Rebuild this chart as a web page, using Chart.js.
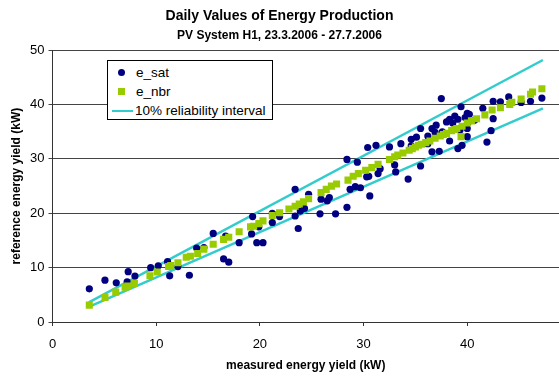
<!DOCTYPE html>
<html>
<head>
<meta charset="utf-8">
<script src="https://cdn.jsdelivr.net/npm/chart.js@4"></script>
<style>
  html, body { margin: 0; padding: 0; background: #fff; }
  #wrap { position: relative; width: 559px; height: 376px; }
  #legend {
    position: absolute; left: 107px; top: 60px; width: 164px; height: 58px;
    border: 1px solid #000; background: #fff;
    font: 13.5px "Liberation Sans", Arial, sans-serif; color: #000;
  }
  #legend .row { position: absolute; left: 0; height: 16px; line-height: 16px; }
  #legend .txt { position: absolute; left: 28px; white-space: nowrap; }
  #legend .dot { position: absolute; left: 10px; top: 4px; width: 7px; height: 7px; border-radius: 50%; background: #000080; }
  #legend .sq { position: absolute; left: 10px; top: 4px; width: 7px; height: 7px; background: #99cc00; }
  #legend .ln { position: absolute; left: 4px; top: 7px; width: 21px; height: 2px; background: #33cccc; }
</style>
</head>
<body>
<div id="wrap">
  <canvas id="chart" width="559" height="376"></canvas>
  <div id="legend">
    <div class="row" style="top:4px"><span class="dot"></span><span class="txt">e_sat</span></div>
    <div class="row" style="top:23px"><span class="sq"></span><span class="txt">e_nbr</span></div>
    <div class="row" style="top:42px"><span class="ln"></span><span class="txt" style="left:27px">10% reliability interval</span></div>
  </div>
</div>
<script>
// measured (x) vs reference (y) daily energy yield, kW
const satX = [3.55, 5.06, 6.15, 7.2, 7.3, 7.95, 9.47, 10.2, 11.1, 11.3, 12.1, 13.2, 13.9, 14.6, 15.5, 16.5, 16.7, 17.0,
  18.0, 19.2, 19.3, 19.7, 19.9, 20.3, 21.2, 21.2, 21.9, 23.4, 23.4, 23.7, 23.9, 24.3, 24.7, 25.8, 25.9, 26.5, 26.7,
  27.3, 28.4, 28.4, 28.7, 29.2, 29.4, 29.7, 30.3, 30.4, 30.6, 30.5, 31.2, 31.4, 31.6, 32.5, 33.0, 33.1, 33.6, 34.3,
  34.6, 34.6, 35.1, 35.5, 35.5, 36.2, 36.2, 36.6, 36.6, 36.9, 37.0, 37.3, 37.5, 37.6, 38.0, 38.3, 38.3, 38.6, 38.8,
  39.1, 39.1, 39.3, 39.4, 39.5, 39.8, 40.0, 40.0, 40.0, 40.1, 40.2, 40.7, 41.5, 41.9, 42.3, 42.5, 42.5, 43.2, 44.0,
  45.2, 46.1, 47.2]
const satY = [6.1, 7.7, 7.2, 7.4, 9.25, 8.45, 10.0, 10.35, 11.1, 8.5, 10.2, 8.6, 13.6, 13.7, 16.3, 11.6, 15.8, 11.0,
  14.6, 16.2, 19.4, 14.6, 17.5, 14.6, 18.3, 20.0, 19.4, 24.4, 19.5, 17.2, 20.4, 20.9, 23.5, 19.9, 22.6, 22.3, 22.9,
  19.9, 21.1, 29.9, 24.4, 24.9, 29.4, 24.7, 26.7, 32.1, 23.2, 26.8, 32.5, 27.3, 28.2, 32.2, 28.9, 27.6, 32.8, 26.3,
  33.6, 32.4, 34.0, 35.6, 28.7, 34.2, 32.8, 35.6, 31.3, 34.9, 36.2, 31.4, 41.1, 35.0, 36.8, 37.3, 33.3, 36.6, 37.9,
  37.3, 31.9, 35.3, 39.6, 32.5, 37.6, 38.4, 35.6, 34.1, 36.8, 38.2, 37.1, 39.3, 33.1, 35.2, 37.4, 40.6, 40.5, 41.4,
  40.4, 40.6, 41.2]

const nbrX = [3.55, 5.06, 6.1, 7.0, 7.25, 7.9, 9.4, 10.1, 11.2, 11.4, 12.1, 12.9, 13.3, 14.0, 14.6, 15.5, 16.5, 17.0,
  18.0, 19.1, 19.4, 19.9, 20.3, 21.2, 21.9, 22.8, 23.4, 23.8, 24.2, 24.7, 25.9, 26.4, 26.9, 27.4, 28.5, 29.0, 29.5,
  30.2, 30.8, 31.4, 32.5, 33.0, 33.3, 33.8, 34.4, 34.7, 35.0, 35.3, 35.6, 36.0, 36.4, 36.9, 37.4, 37.7, 38.0, 38.5,
  38.8, 39.0, 39.4, 39.5, 40.0, 40.4, 40.9, 41.7, 42.4, 43.2, 44.1, 44.3, 45.2, 46.1, 46.3, 47.2]
const nbrY = [3.1, 4.5, 5.5, 6.4, 6.6, 7.1, 8.5, 9.2, 10.2, 10.4, 10.9, 11.9, 12.1, 12.6, 13.4, 14.3, 15.2, 15.6,
  16.6, 17.5, 17.6, 18.1, 18.6, 19.6, 20.1, 20.8, 21.3, 21.7, 22.1, 22.7, 23.8, 24.4, 25.0, 25.4, 26.1, 26.8, 27.3,
  27.9, 28.4, 29.0, 29.9, 30.4, 30.7, 31.1, 31.6, 31.9, 32.2, 32.5, 32.7, 33.0, 33.3, 33.8, 34.2, 34.5, 34.7, 35.2,
  35.4, 35.6, 34.1, 36.0, 36.6, 37.0, 37.4, 38.1, 39.0, 39.4, 40.0, 40.4, 41.0, 41.9, 42.3, 42.9]

// +/-10% band around the e_nbr fit
const bandX = [3.5, 47.3]
const upperY = [3.6, 48.2]
const lowerY = [2.8, 39.3]

const xTicks = [0, 10, 20, 30, 40]
const yTicks = [0, 10, 20, 30, 40, 50]

const toPoints = (xs, ys) => xs.map((x, i) => ({ x: x, y: ys[i] }))

const FONT = '"Liberation Sans", Arial, sans-serif'
const CYAN = '#33cccc'

new Chart(document.getElementById('chart'), {
  type: 'scatter',
  data: {
    datasets: [
      {
        label: '10% reliability interval',
        type: 'line',
        data: toPoints(bandX, upperY),
        borderColor: CYAN,
        borderWidth: 2.5,
        pointRadius: 0,
        order: 3
      },
      {
        label: 'lower',
        type: 'line',
        data: toPoints(bandX, lowerY),
        borderColor: CYAN,
        borderWidth: 2.5,
        pointRadius: 0,
        order: 3
      },
      {
        label: 'e_sat',
        data: toPoints(satX, satY),
        pointStyle: 'circle',
        pointRadius: 3.6,
        pointBorderWidth: 0,
        backgroundColor: '#000080',
        borderColor: '#000080',
        order: 2
      },
      {
        label: 'e_nbr',
        data: toPoints(nbrX, nbrY),
        pointStyle: 'rect',
        pointRadius: 5,
        pointBorderWidth: 0,
        backgroundColor: '#99cc00',
        borderColor: '#99cc00',
        order: 1
      }
    ]
  },
  options: {
    responsive: false,
    animation: false,
    layout: { padding: 0, autoPadding: false },
    plugins: {
      legend: { display: false },
      tooltip: { enabled: false },
      title: {
        display: true,
        text: 'Daily Values of Energy Production',
        color: '#000',
        font: { family: FONT, size: 14, weight: 'bold' },
        padding: { top: 8, bottom: 2 }
      },
      subtitle: {
        display: true,
        text: 'PV System H1, 23.3.2006 - 27.7.2006',
        color: '#000',
        font: { family: FONT, size: 12, weight: 'bold' },
        padding: { top: 2, bottom: 7 }
      }
    },
    scales: {
      x: {
        type: 'linear',
        min: 0,
        max: 48.85,
        afterFit: (scale) => {
          scale.height = 54
          scale.paddingLeft = 0
          scale.paddingRight = 0
        },
        afterBuildTicks: (scale) => { scale.ticks = xTicks.map(v => ({ value: v })) },
        ticks: {
          color: '#000',
          font: { family: FONT, size: 13 },
          padding: 11
        },
        grid: { drawOnChartArea: false, drawTicks: true, tickLength: 4, color: '#333' },
        border: { display: true, color: '#333', width: 1 },
        title: {
          display: true,
          text: 'measured energy yield (kW)',
          color: '#000',
          font: { family: FONT, size: 12, weight: 'bold' },
          padding: { top: 0, bottom: 3 }
        }
      },
      y: {
        type: 'linear',
        min: 0,
        max: 50,
        afterFit: (scale) => { scale.width = 52.5 },
        afterBuildTicks: (scale) => { scale.ticks = yTicks.map(v => ({ value: v })) },
        ticks: {
          color: '#000',
          font: { family: FONT, size: 13 },
          padding: 4
        },
        grid: { drawOnChartArea: true, drawTicks: true, tickLength: 4, color: '#444', lineWidth: 1 },
        border: { display: true, color: '#333', width: 1 },
        title: {
          display: true,
          text: 'reference energy yield (kW)',
          color: '#000',
          font: { family: FONT, size: 12, weight: 'bold' },
          padding: { top: 9, bottom: 0 }
        }
      }
    }
  }
})
</script>
</body>
</html>
